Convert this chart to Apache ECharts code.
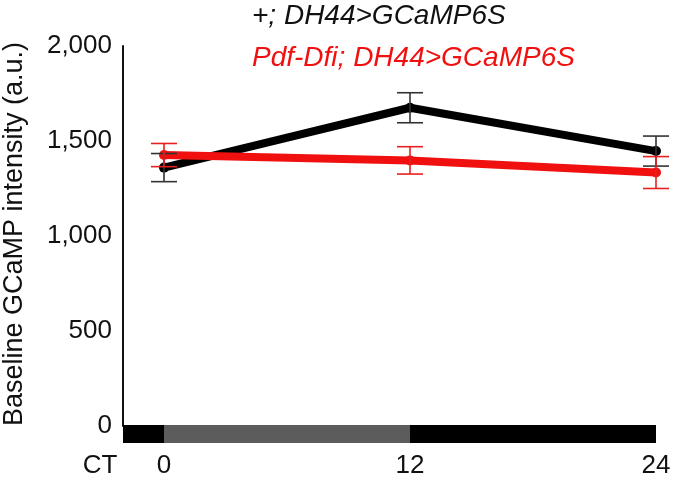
<!DOCTYPE html>
<html>
<head>
<meta charset="utf-8">
<script src="https://cdn.jsdelivr.net/npm/echarts@6/dist/echarts.min.js"></script>
<style>html,body{margin:0;padding:0;background:#fff}#c{width:675px;height:482px}</style>
</head>
<body>
<div id="c"></div>
<script>
// ---- data ----
const ctHours = [0, 12, 24];
const controlMean = [1360, 1675, 1447];
const controlErr = [74, 79, 79];
const pdfDfiMean = [1426, 1398, 1334];
const pdfDfiErr = [61, 72, 84];
const yTickValues = [0, 500, 1000, 1500, 2000];
const xTickValues = [0, 12, 24];
const phaseStart = [-2, 0, 12];
const phaseEnd = [0, 12, 24];
const phaseKind = ['dark', 'light', 'dark'];
const seriesNames = ['+; DH44>GCaMP6S', 'Pdf-Dfi; DH44>GCaMP6S'];
const yTitle = 'Baseline GCaMP intensity (a.u.)';
const xTitle = 'CT';

// ---- styles ----
const BLACK = '#000000';
const RED = '#f01010';
const FONT = 'Liberation Sans, Arial, Helvetica, sans-serif';

function errData(xs, m, e) { return xs.map((x, i) => [x, m[i], e[i]]); }
function errRender(color) {
  return function (params, api) {
    const x = api.value(0), m = api.value(1), e = api.value(2);
    const top = api.coord([x, m + e]);
    const bot = api.coord([x, m - e]);
    const hw = 13;
    const st = { stroke: color, lineWidth: 1.6 };
    return {
      type: 'group',
      children: [
        { type: 'line', shape: { x1: top[0], y1: top[1], x2: bot[0], y2: bot[1] }, style: st },
        { type: 'line', shape: { x1: top[0] - hw, y1: top[1], x2: top[0] + hw, y2: top[1] }, style: st },
        { type: 'line', shape: { x1: bot[0] - hw, y1: bot[1], x2: bot[0] + hw, y2: bot[1] }, style: st }
      ]
    };
  };
}

const chart = echarts.init(document.getElementById('c'), null, { renderer: 'canvas' });
const option = {
  animation: false,
  backgroundColor: '#ffffff',
  grid: [
    { left: 123, right: 19, top: 46, bottom: 56 },
    { left: 123, right: 19, top: 425, height: 18 }
  ],
  xAxis: [
    { gridIndex: 0, type: 'value', min: -2, max: 24, show: false },
    {
      gridIndex: 1, type: 'value', min: -2, max: 24,
      axisLine: { show: false }, axisTick: { show: false }, splitLine: { show: false },
      axisLabel: { customValues: xTickValues, fontSize: 26, color: '#111', fontFamily: FONT, margin: 10 }
    }
  ],
  yAxis: [
    {
      gridIndex: 0, type: 'value', min: 0, max: 2000, interval: 500,
      axisLine: { show: true, onZero: false, lineStyle: { color: '#111', width: 2 } },
      axisTick: { show: false }, splitLine: { show: false },
      axisLabel: {
        fontSize: 26, color: '#111', fontFamily: FONT, margin: 11,
        formatter: v => yTickValues.includes(v) ? v.toLocaleString('en-US') : ''
      }
    },
    { gridIndex: 1, type: 'value', min: 0, max: 1, show: false }
  ],
  graphic: [
    { type: 'text', x: 252, y: 16, style: { text: seriesNames[0], font: 'italic 28px ' + FONT, fill: '#111', textVerticalAlign: 'middle', verticalAlign: 'middle' } },
    { type: 'text', x: 252, y: 58, style: { text: seriesNames[1], font: 'italic 28px ' + FONT, fill: RED, textVerticalAlign: 'middle', verticalAlign: 'middle' } },
    { type: 'text', x: 100, y: 466, style: { text: xTitle, font: '26px ' + FONT, fill: '#111', textAlign: 'center', align: 'center', textVerticalAlign: 'middle', verticalAlign: 'middle' } },
    { type: 'text', x: 15, y: 234, rotation: Math.PI / 2, style: { text: yTitle, font: '27px ' + FONT, fill: '#111', textAlign: 'center', align: 'center', textVerticalAlign: 'middle', verticalAlign: 'middle' } }
  ],
  series: [
    {
      name: 'phase', type: 'custom', xAxisIndex: 1, yAxisIndex: 1,
      data: phaseStart.map((s, i) => [s, phaseEnd[i], phaseKind[i] === 'light' ? 1 : 0]),
      renderItem: function (params, api) {
        const a = api.coord([api.value(0), 0]);
        const b = api.coord([api.value(1), 1]);
        return {
          type: 'rect',
          shape: { x: a[0], y: b[1], width: b[0] - a[0], height: a[1] - b[1] },
          style: { fill: api.value(2) === 1 ? '#5c5c5c' : '#000000' }
        };
      }
    },
    {
      name: seriesNames[0], type: 'line', xAxisIndex: 0, yAxisIndex: 0,
      data: ctHours.map((x, i) => [x, controlMean[i]]),
      lineStyle: { color: BLACK, width: 8 }, itemStyle: { color: BLACK },
      symbol: 'circle', symbolSize: 10, z: 2
    },
    {
      name: seriesNames[1], type: 'line', xAxisIndex: 0, yAxisIndex: 0,
      data: ctHours.map((x, i) => [x, pdfDfiMean[i]]),
      lineStyle: { color: RED, width: 8 }, itemStyle: { color: RED },
      symbol: 'circle', symbolSize: 10, z: 3
    },
    {
      name: 'err0', type: 'custom', xAxisIndex: 0, yAxisIndex: 0, z: 4,
      data: errData(ctHours, controlMean, controlErr), renderItem: errRender('#333333')
    },
    {
      name: 'err1', type: 'custom', xAxisIndex: 0, yAxisIndex: 0, z: 5,
      data: errData(ctHours, pdfDfiMean, pdfDfiErr), renderItem: errRender('#e82020')
    }
  ]
};
chart.setOption(option);
</script>
</body>
</html>
